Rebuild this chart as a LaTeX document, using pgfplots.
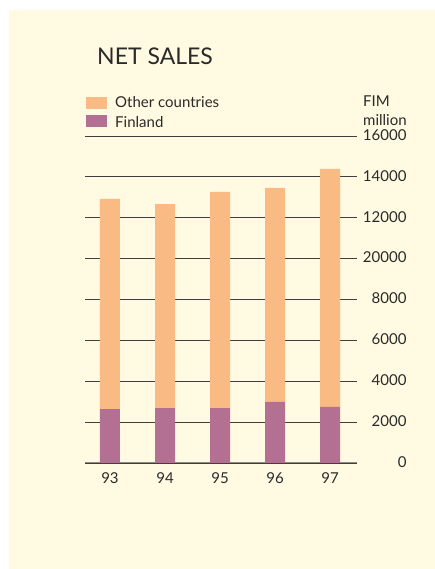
\documentclass[border=0pt]{standalone}
\usepackage{pgfplots}
\pgfplotsset{compat=1.18}
\usepackage{fontspec}
\setmainfont{Lato}
\definecolor{bg}{HTML}{FFFAE1}
\definecolor{oth}{HTML}{FABA84}
\definecolor{fin}{HTML}{B47093}
\definecolor{gridc}{HTML}{3F3F3F}
\definecolor{txt}{HTML}{2A2A2A}
\definecolor{axc}{HTML}{8C8A80}
\begin{document}
\begin{tikzpicture}[x=1pt,y=1pt]
\fill[white] (0,0) rectangle (435,569);
\fill[bg] (9,0) rectangle (435,559);
\node[anchor=base west, inner sep=0, font=\fontsize{23}{23}\selectfont, text=txt] at (97,569-65) {NET SALES};
\fill[oth] (86,569-109) rectangle (107,569-97);
\fill[fin] (86,569-127) rectangle (107,569-115);
\node[anchor=base west, inner sep=0, font=\fontsize{15}{15}\selectfont, text=txt] at (115,569-108) {Other countries};
\node[anchor=base west, inner sep=0, font=\fontsize{15}{15}\selectfont, text=txt] at (115,569-128) {Finland};
\node[anchor=base west, inner sep=0, font=\fontsize{15}{15}\selectfont, text=txt] at (363,569-107) {FIM};
\node[anchor=base west, inner sep=0, font=\fontsize{15}{15}\selectfont, text=txt] at (363,569-126) {million};
\begin{axis}[
  at={(85pt,106pt)}, anchor=south west,
  scale only axis, width=272pt, height=327pt,
  ybar stacked, bar width=20pt,
  xmin=-0.4545, xmax=4.491, ymin=0, ymax=16000,
  xtick={0,1,2,3,4}, xticklabels={93,94,95,96,97},
  ytick={0,2000,4000,6000,8000,10000,12000,14000,16000},
  yticklabels={0,2000,4000,6000,8000,20000,12000,14000,16000},
  ymajorgrids, grid style={gridc, line width=0.9pt},
  axis line style={draw=none},
  major tick length=0pt,
  ytick pos=right, xtick pos=bottom,
  tick label style={font=\fontsize{15}{15}\selectfont, text=txt},
  yticklabel style={anchor=east, xshift=53pt, yshift=1pt},
  xticklabel style={anchor=north, yshift=-6pt},
  scaled y ticks=false,
  /pgf/number format/assume math mode=true,
]
\addplot[fill=fin, draw=none] coordinates {(0,2640) (1,2690) (2,2690) (3,2985) (4,2740)};
\addplot[fill=oth, draw=none] coordinates {(0,10280) (1,9980) (2,10570) (3,10475) (4,11650)};
\draw[color=axc, line width=1.6pt] (rel axis cs:0,0) -- (rel axis cs:1,0);
\end{axis}
\end{tikzpicture}
\end{document}
